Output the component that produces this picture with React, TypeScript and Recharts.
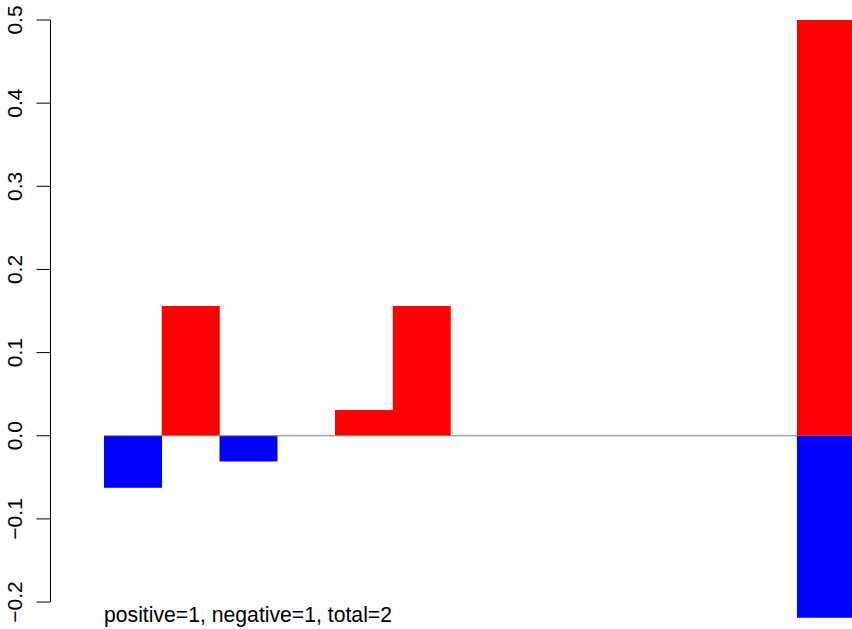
import React from 'react';
import { BarChart, Bar, XAxis, YAxis, ReferenceArea } from 'recharts';

const categories = ['1', '2', '3', '4', '5', '6', '7', '8', '9', '10', '11', '12', '13'];
const positiveValues = [0, 0.156, 0, 0, 0.031, 0.156, 0, 0, 0, 0, 0, 0, 0.5];
const negativeValues = [-0.0625, 0, -0.031, 0, 0, 0, 0, 0, 0, 0, 0, 0, -0.219];
const yTicks = [-0.2, -0.1, 0, 0.1, 0.2, 0.3, 0.4, 0.5];
const yDomain = [-0.22, 0.5];
const axisRange = [-0.2, 0.5];
const zeroLineFrom = '1';
const zeroLineTo = '12';
const annotation = 'positive=1, negative=1, total=2';

const data = categories.map((c, i) => ({
  name: c,
  positive: positiveValues[i],
  negative: negativeValues[i],
}));

const FONT = '"Liberation Sans", Arial, Helvetica, sans-serif';
const PAD_LEFT = 53.5;

const fmt = (v: number) => {
  const s = Math.abs(v).toFixed(1);
  return v < 0 ? '\u2212' + s : s;
};

const YTick = (props: any) => {
  const { x, y, payload } = props;
  return (
    <text
      x={x}
      y={y}
      transform={`rotate(-90, ${x}, ${y})`}
      textAnchor="middle"
      fontSize={21}
      fontFamily={FONT}
      fill="#000"
    >
      {fmt(payload.value)}
    </text>
  );
};

const AxisShape = (props: any) => {
  const { x, y, height } = props;
  const ax = x - PAD_LEFT;
  return (
    <g>
      <line x1={ax} y1={y} x2={ax} y2={y + height} stroke="#000" strokeWidth={1} />
      <text x={x} y={621.5} fontSize={21.2} fontFamily={FONT} fill="#000">
        {annotation}
      </text>
    </g>
  );
};

const ZeroShape = (props: any) => {
  const { x, y, width } = props;
  return <line x1={x} y1={y} x2={x + width} y2={y} stroke="#808080" strokeWidth={1} />;
};

export default function App() {
  return (
    <div
      style={{
        position: 'absolute',
        left: 0,
        top: 0,
        width: 852,
        height: 629,
        overflow: 'hidden',
        background: '#fff',
      }}
    >
      <BarChart
        width={856}
        height={629}
        data={data}
        margin={{ top: 20, right: 1.3, bottom: 10.3, left: 0 }}
        barCategoryGap={0}
        barGap={0}
        stackOffset="sign"
      >
        <XAxis dataKey="name" hide padding={{ left: PAD_LEFT, right: 0 }} />
        <YAxis
          type="number"
          domain={yDomain}
          ticks={yTicks}
          width={50.5}
          axisLine={false}
          tickLine={{ stroke: '#000', strokeWidth: 1 }}
          tickSize={14}
          tickMargin={14.5}
          tick={<YTick />}
          interval={0}
        />
        <Bar dataKey="positive" stackId="s" fill="#ff0000" isAnimationActive={false} />
        <Bar dataKey="negative" stackId="s" fill="#0000ff" isAnimationActive={false} />
        <ReferenceArea
          x1={zeroLineFrom}
          x2={zeroLineFrom}
          y1={axisRange[0]}
          y2={axisRange[1]}
          ifOverflow="visible"
          shape={<AxisShape />}
        />
        <ReferenceArea
          x1={zeroLineFrom}
          x2={zeroLineTo}
          y1={0}
          y2={0}
          ifOverflow="visible"
          shape={<ZeroShape />}
          zIndex={500}
        />
      </BarChart>
    </div>
  );
}
